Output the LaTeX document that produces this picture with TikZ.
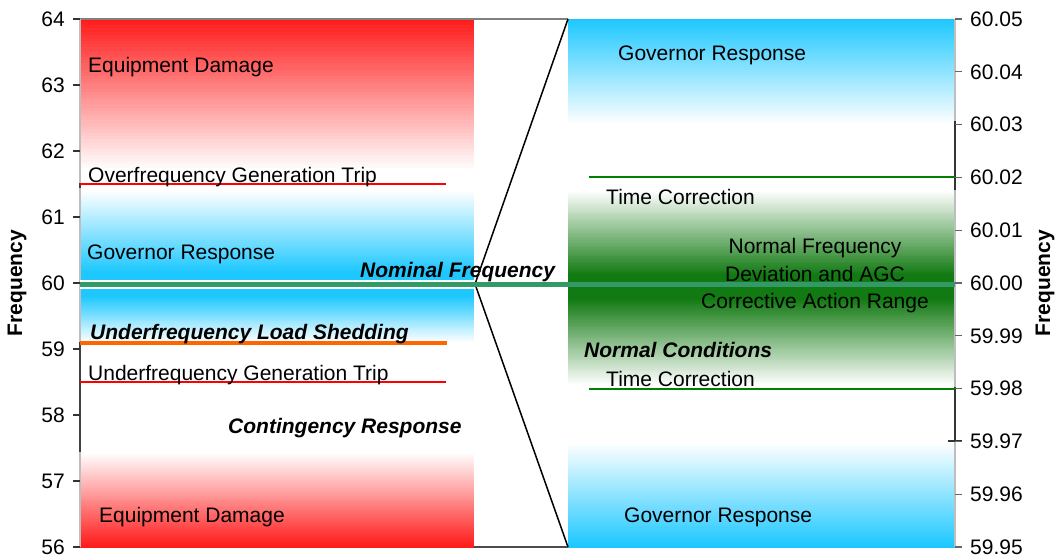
\documentclass[tikz,border=0pt]{standalone}
\usepackage{fontspec}
\setmainfont{Liberation Sans}
\definecolor{dmgred}{RGB}{255,28,28}
\definecolor{govblue}{RGB}{30,200,255}
\definecolor{agcgreen}{RGB}{18,122,18}
\definecolor{nomgreen}{RGB}{51,153,102}
\definecolor{shedorange}{RGB}{255,102,0}
\definecolor{tcgreen}{RGB}{0,128,0}
\definecolor{axisgray}{RGB}{190,190,190}
% x1, x2, top y, bottom y, top colour, bottom colour
\newcommand{\fadeband}[6]{%
  \foreach \k in {0,...,47}{
    \pgfmathsetmacro{\mixp}{100*\k/47}
    \pgfmathsetmacro{\ya}{#3+(#4-#3)*\k/48}
    \pgfmathsetmacro{\yb}{#3+(#4-#3)*(\k+1)/48+0.6}
    \fill[#6!\mixp!#5] (#1,\ya) rectangle (#2,\yb);
  }}

\begin{document}
\begin{tikzpicture}[x=1pt,y=-1pt,
    every node/.style={inner sep=0,font=\fontsize{21}{25}\selectfont},
    lab/.style={anchor=west},
    key/.style={anchor=west,font=\fontsize{21}{25}\selectfont\bfseries\itshape},
    axtitle/.style={rotate=90,font=\fontsize{21}{25}\selectfont\bfseries}]
  \useasboundingbox (0,0) rectangle (1056,559);

  % left band, 56 to 64
  \fadeband{80}{474}{19}{171}{dmgred}{white}
  \fill[white] (80,170) rectangle (474,191);
  \fadeband{80}{474}{190}{273}{white}{govblue}
  \fill[govblue] (80,272) rectangle (474,297);
  \fadeband{80}{474}{296}{343}{govblue}{white}
  \fill[white] (80,342) rectangle (474,453);
  \fadeband{80}{474}{452}{547}{white}{dmgred}

  % right band, 59.95 to 60.05
  \fadeband{568}{955}{19}{125}{govblue}{white}
  \fill[white] (568,124) rectangle (955,191);
  \fadeband{568}{955}{190}{276}{white}{agcgreen}
  \fill[agcgreen] (568,275) rectangle (955,299);
  \fadeband{568}{955}{298}{386}{agcgreen}{white}
  \fill[white] (568,385) rectangle (955,443);
  \fadeband{568}{955}{442}{547}{white}{govblue}

  % zoom lines
  \coordinate (pivot) at (475,284);
  \coordinate (ltop) at (80,19);
  \coordinate (rtop) at (568,19);
  \coordinate (lbot) at (474,547);
  \coordinate (rbot) at (568,547);
  \draw[gray,line width=1.5] (ltop) -- (rtop);
  \draw[black!70,line width=2] (lbot) -- (rbot);
  \draw[line width=1.5] (pivot) -- (rtop);
  \draw[line width=1.5] (pivot) -- (rbot);

  % axes
  \draw[axisgray,line width=1.2] (80,19) -- (80,547);
  \draw[axisgray,line width=1.2] (955,19) -- (955,547);
  \draw[black!75,line width=1.5] (80,342) -- (80,452);
  \draw[black!75,line width=1.5] (80,183) -- (80,188);
  \draw[black!80,line width=1.2] (955,121) -- (955,190);
  \draw[black!80,line width=1.2] (955,387) -- (955,441) (948,441) -- (962,441);
  \foreach \f [count=\i from 0] in {64,63,62,61,60,59,58,57,56}{
    \draw[black!80,line width=1.2] (73,19+66*\i) -- (80,19+66*\i);
    \node[anchor=east] (lt\i) at (65,19+66*\i) {\f};
  }
  \foreach \f [count=\i from 0] in {60.05,60.04,60.03,60.02,60.01,60.00,59.99,59.98,59.97,59.96,59.95}{
    \draw[black!60,line width=1.2] (955,19+52.8*\i) -- (962,19+52.8*\i);
    \node[anchor=west] (rt\i) at (970,19+52.8*\i) {\f};
  }
  \node[axtitle] (ftleft) at (17,283) {Frequency};
  \node[axtitle] (ftright) at (1045,283) {Frequency};

  % limit lines
  \draw[red,line width=2] (80,184) -- (446,184);
  \draw[shedorange,line width=3.2] (80,343) -- (447,343);
  \draw[red,line width=2] (80,382) -- (446,382);
  \draw[tcgreen,line width=2.5] (589,177) -- (955,177);
  \draw[tcgreen,line width=1.2] (589,389) -- (955,389);
  \draw[white,line width=9] (80,284) -- (474,284);
  \draw[nomgreen,line width=5] (80,284) -- (955,284);

  % labels, left
  \node[lab] (dmgtop) at (88,67) {Equipment Damage};
  \node[lab] (overtrip) at (88,177) {Overfrequency Generation Trip};
  \node[lab] (govleft) at (87,254) {Governor Response};
  \node[key] (nominal) at (360,272) {Nominal Frequency};
  \node[key] (shed) at (90,334) {Underfrequency Load Shedding};
  \node[lab] (undertrip) at (88,375) {Underfrequency Generation Trip};
  \node[key] (contin) at (228,428) {Contingency Response};
  \node[lab] (dmgbot) at (99,517) {Equipment Damage};

  % labels, right
  \node[lab] (govtop) at (618,55) {Governor Response};
  \node[lab] (tcup) at (606,197) {Time Correction};
  \node[align=center,font=\fontsize{21}{27.5}\selectfont] (agc) at (815,276)
    {Normal Frequency\\Deviation and AGC\\Corrective Action Range};
  \node[key] (normal) at (584,350) {Normal Conditions};
  \node[lab] (tcdown) at (606,379) {Time Correction};
  \node[lab] (govbot) at (624,517) {Governor Response};
\end{tikzpicture}
\end{document}
